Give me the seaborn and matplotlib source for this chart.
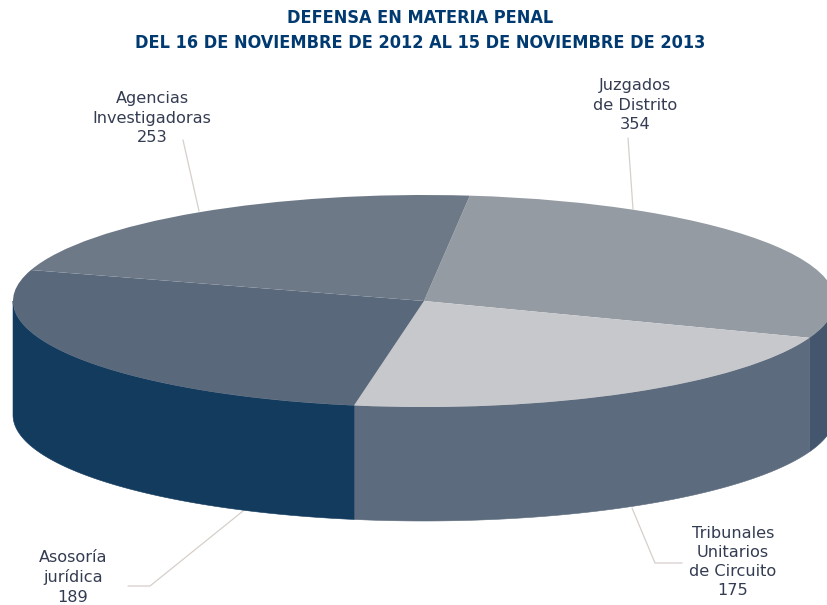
import numpy as np
import matplotlib
matplotlib.use("Agg")
import matplotlib.pyplot as plt
import seaborn as sns

title_lines = ["DEFENSA EN MATERIA PENAL", "DEL 16 DE NOVIEMBRE DE 2012 AL 15 DE NOVIEMBRE DE 2013"]
categories = ["Juzgados\nde Distrito", "Tribunales\nUnitarios\nde Circuito", "Asosoría\njurídica", "Agencias\nInvestigadoras"]
values = [354, 175, 189, 253]
# Wedge spans as drawn in the picture (degrees on the flattened ellipse); the
# original's perspective makes them differ from the printed values.
drawn_spans = [103.9, 79.5, 97.2, 79.4]
top_colors = ["#949ba3", "#c7c8cc", "#5a687b", "#6e7988"]
wall_colors = ["#43566e", "#5c6b7d", "#133b5e", "#133b5e"]

W, H = 827, 605
cx, cy, rx, ry, depth = 424, 301, 411, 106, 114
first_angle = 6.4
yscale = rx / ry

sns.set_theme(style="white")
fig = plt.figure(figsize=(W / 100, H / 100), dpi=100)

ax = fig.add_axes([0, 0, 1, 1])
ax.set_xlim(0, W)
ax.set_ylim(H, 0)
ax.axis("off")

# side walls (front half only)
edges = first_angle + np.cumsum([0] + drawn_spans)
for a, b, col in zip(edges[:-1], edges[1:], wall_colors):
    a2, b2 = max(a, 90), min(b, 270)
    if b2 <= a2:
        continue
    t = np.radians(np.linspace(a2, b2, 200))
    x = cx + rx * np.sin(t)
    y = cy - ry * np.cos(t)
    ax.fill(np.r_[x, x[::-1]], np.r_[y, y[::-1] + depth], color=col, lw=0.4, zorder=2)

# top face
ax2 = fig.add_axes([0, 0, 1, 1])
ax2.patch.set_alpha(0)
ax2.pie(drawn_spans, colors=top_colors, startangle=90 - first_angle, counterclock=False,
        radius=rx, center=(cx, (H - cy) * yscale), wedgeprops=dict(linewidth=0))
ax2.set_aspect("auto")
ax2.set_xlim(0, W)
ax2.set_ylim(0, H * yscale)
ax2.axis("off")

leaders = [
    ([628, 633], [138, 209]),
    ([632, 655, 682], [508, 563, 563]),
    ([128, 150, 243], [586, 586, 511]),
    ([183, 199], [140, 211]),
]
for lx, ly in leaders:
    ax.plot(lx, ly, color="#d6cfca", lw=0.9, zorder=1)

label_pos = [(635, 105), (733, 562), (73, 577), (152, 118)]
text_color = "#343c52"
for cat, val, (tx, ty) in zip(categories, values, label_pos):
    ax.text(tx, ty, f"{cat}\n{val}", ha="center", va="center", fontsize=11.6,
            color=text_color, family="DejaVu Sans", linespacing=1.36, zorder=5)

for s, ty in zip(title_lines, (18, 43)):
    ax.text(420, ty, s, ha="center", va="center", fontsize=12.95, fontweight="bold",
            color="#003a70", family="DejaVu Sans", stretch="condensed", zorder=5)

fig.savefig("out.png", dpi=100, facecolor="white")
